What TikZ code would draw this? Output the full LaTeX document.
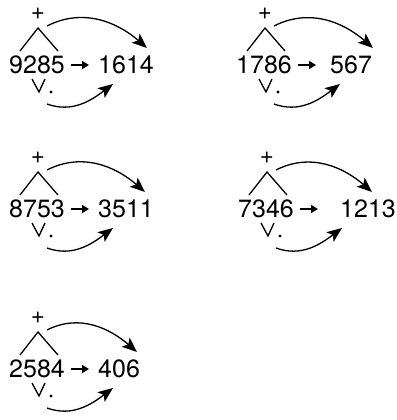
\documentclass[tikz,border=0pt]{standalone}
\usepackage{fontspec}
\setmainfont{TeX Gyre Heros}
\usetikzlibrary{arrows.meta}
\tikzset{
    x=1pt, y=1pt,
    cifra/.style={font=\fontsize{25}{29}\selectfont, inner sep=0pt},
    signo/.style={font=\fontsize{24}{26}\selectfont, inner sep=0pt},
    trazo/.style={line width=1.3pt},
    curva/.style={-{Stealth[length=15pt, width=12pt, inset=3.5pt]},
                  line width=1.3pt},
    paso/.style={-{Triangle[length=7pt, width=8pt]}, line width=1.8pt},
}
% #1 prefijo, #2 origen (el +), #3 numero, #4 resultado,
% #5 x del resultado, #6 x de la punta de arriba
\newcommand{\caso}[6]{%
  \begin{scope}[shift={#2}]
    \node[signo] (#1mas) at (0,0) {+};
    \coordinate (#1cima) at (0,-14);
    \coordinate (#1izq) at (-18,-37);
    \coordinate (#1der) at (20,-37);
    \draw[trazo] (#1izq) -- (#1cima) -- (#1der);

    \node[cifra] (#1num) at (-1,-51) {#3};
    \node[cifra, anchor=west] (#1res) at (#5,-51) {#4};
    \draw[paso] ([xshift=6pt]#1num.east) -- ++(18,0);

    \coordinate (#1va) at (-6,-65);
    \coordinate (#1vb) at (1,-78);
    \coordinate (#1vc) at (7,-65);
    \draw[trazo] (#1va) -- (#1vb) -- (#1vc);
    \fill (13,-78) circle (1.7);

    \coordinate (#1ini) at (9,-12);
    \coordinate (#1punta) at (#6,-34);
    \draw[curva] (#1ini) to[out=27, in=139] (#1punta);
    \coordinate (#1bajo) at (9,-90);
    \coordinate (#1fin) at (75,-70);
    \draw[curva] (#1bajo) to[out=-20, in=-143] (#1fin);
  \end{scope}}

\begin{document}
\begin{tikzpicture}
    \fill[white] (0,0) rectangle (396,-420);
    \useasboundingbox (0,0) rectangle (396,-420);

    \caso{a}{(38,-14)}{9285}{1614}{60}{109}
    \caso{b}{(265,-14)}{1786}{567}{65}{108}
    \caso{c}{(38,-158)}{8753}{3511}{60}{107}
    \caso{d}{(267,-158)}{7346}{1213}{73}{105}
    \caso{e}{(38,-318)}{2584}{406}{60}{99}
\end{tikzpicture}
\end{document}
